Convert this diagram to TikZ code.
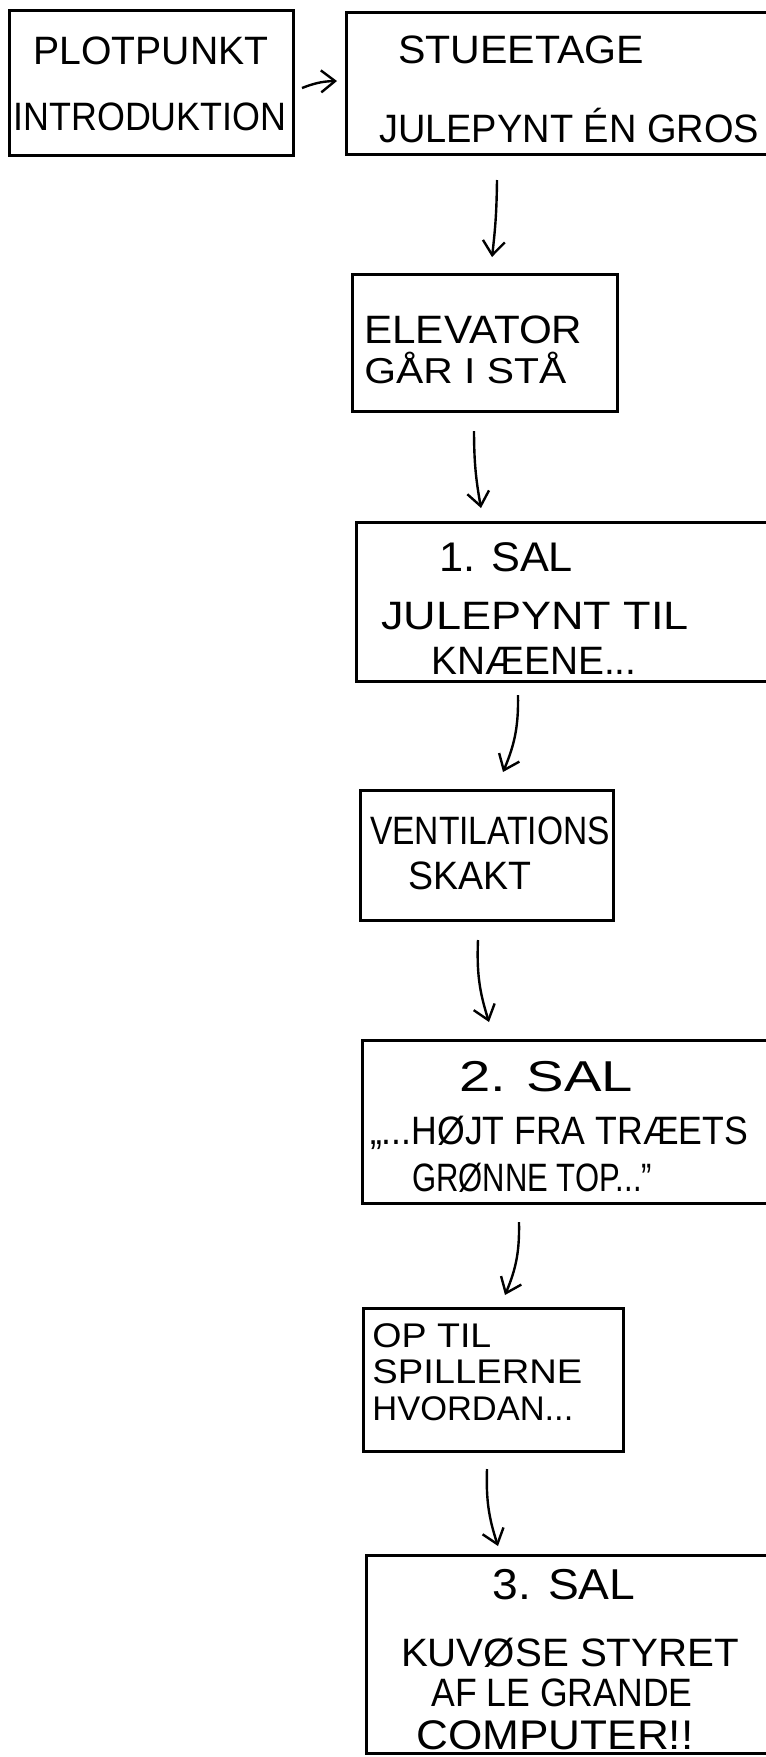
\documentclass[tikz,border=0pt]{standalone}
\usepackage{fontspec}
\setmainfont{Liberation Sans}
\usetikzlibrary{fit,arrows.meta}
\newsavebox\txbox
% \tx[vertical scale]{target width in px}{text}
\newcommand\tx[3][1.1]{\sbox\txbox{#3}\pgfmathsetmacro\txsx{#2/2/\the\wd\txbox}\scalebox{\txsx}[#1]{\usebox\txbox}}
\begin{document}
\begin{tikzpicture}[x=0.5pt,y=-0.5pt,
  box/.style={draw, line width=1.5pt, inner sep=0pt, fit={#1}},
  lbl/.style={inner sep=0pt, font=\fontsize{18}{22}\selectfont},
  arr/.style={line width=1.2pt, -{Straight Barb[length=7pt,width=11pt]}}]
\useasboundingbox (0,0) rectangle (766,1757);
\clip (0,0) rectangle (766,1757);
% boxes
\node[box={(9,10) (293,155)}] (b1) {};
\node[box={(346,12) (800,154)}] (b2) {};
\node[box={(352,274) (617,411)}] (b3) {};
\node[box={(356,522) (800,681)}] (b4) {};
\node[box={(360,790) (613,920)}] (b5) {};
\node[box={(362,1040) (800,1203)}] (b6) {};
\node[box={(363,1308) (623,1451)}] (b7) {};
\node[box={(366,1555) (800,1753)}] (b8) {};
% texts
\node[lbl] (t1a) at (151,51) {\tx{235}{PLOTPUNKT}};
\node[lbl] (t1b) at (150,117) {\tx{273}{INTRODUKTION}};
\node[lbl] (t2a) at (521,50) {\tx{246}{STUEETAGE}};
\node[lbl] (t2b) at (569,126) {\tx{380}{JULEPYNT ÉN GROS}};
\node[lbl,anchor=west] (t3a) at (364,330) {\tx{218}{ELEVATOR}};
\node[lbl,anchor=west] (t3b) at (364,368) {\tx[1]{202}{GÅR I STÅ}};
\node[lbl] (t4a) at (506,557) {\tx[1.15]{134}{1. SAL}};
\node[lbl] (t4b) at (535,616) {\tx{308}{JULEPYNT TIL}};
\node[lbl] (t4c) at (534,661) {\tx{205}{KNÆENE...}};
\node[lbl] (t5a) at (490,831) {\tx{240}{VENTILATIONS}};
\node[lbl] (t5b) at (470,876) {\tx{123}{SKAKT}};
\node[lbl] (t6a) at (546,1077) {\tx[1.2]{174}{2. SAL}};
\node[lbl] (t6b) at (559,1133) {\tx{378}{„...HØJT FRA TRÆETS}};
\node[lbl] (t6c) at (532,1178) {\tx{240}{GRØNNE TOP..."}};
\node[lbl,anchor=west] (t7a) at (372,1336) {\tx[0.95]{119}{OP TIL}};
\node[lbl,anchor=west] (t7b) at (372,1372) {\tx[0.95]{210}{SPILLERNE}};
\node[lbl,anchor=west] (t7c) at (372,1409) {\tx[0.95]{201}{HVORDAN...}};
\node[lbl] (t8a) at (564,1585) {\tx[1.2]{143}{3. SAL}};
\node[lbl] (t8b) at (570,1653) {\tx{338}{KUVØSE STYRET}};
\node[lbl] (t8c) at (562,1693) {\tx{261}{AF LE GRANDE}};
\node[lbl] (t8d) at (555,1735) {\tx[1.15]{277}{COMPUTER!!}};
% arrow end points
\coordinate (h0) at (302,88);  \coordinate (h1) at (337,81);
\coordinate (v1a) at (497,180); \coordinate (v1b) at (492,257);
\coordinate (v2a) at (474,431); \coordinate (v2b) at (481,508);
\coordinate (v3a) at (518,695); \coordinate (v3b) at (503,772);
\coordinate (v4a) at (478,940); \coordinate (v4b) at (489,1022);
\coordinate (v5a) at (519,1222); \coordinate (v5b) at (505,1295);
\coordinate (v6a) at (487,1469); \coordinate (v6b) at (498,1546);
% arrows
\draw[arr] (h0) to[bend left=10] (h1);
\draw[arr] (v1a) to[bend left=3] (v1b);
\draw[arr] (v2a) to[bend right=5] (v2b);
\draw[arr] (v3a) to[bend left=12] (v3b);
\draw[arr] (v4a) to[bend right=10] (v4b);
\draw[arr] (v5a) to[bend left=12] (v5b);
\draw[arr] (v6a) to[bend right=10] (v6b);
\end{tikzpicture}
\end{document}
